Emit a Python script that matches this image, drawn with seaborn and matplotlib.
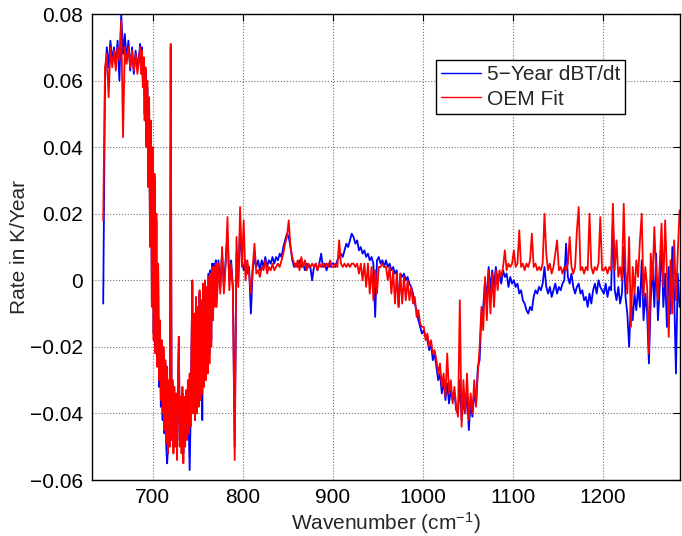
import numpy as np
import pandas as pd
import matplotlib
matplotlib.use("Agg")
import matplotlib.pyplot as plt
import seaborn as sns

# ---------------- data ----------------
# channel grid: 2 cm^-1 steps, 1 cm^-1 steps through the dense 686-770 band
wavenumber = np.concatenate([np.arange(645, 686, 2),
                             np.arange(686, 771, 1),
                             np.arange(771, 1286, 2)])

# 5-Year dBT/dt (observed), K/year, by wavenumber segment
obs_645_685 = [-0.007, 0.060, 0.070, 0.064, 0.072, 0.066, 0.070, 0.065, 0.072, 0.060,
               0.080, 0.068, 0.074, 0.066, 0.072, 0.063, 0.070, 0.062, 0.069, 0.064,
               0.068]
obs_686_770 = [0.071, 0.063, 0.070, 0.060, 0.066, 0.050, 0.063, 0.042, 0.058, 0.030,
               0.052, 0.012, 0.046, -0.006, 0.038, -0.016, 0.030, -0.020, 0.018, -0.024,
               0.003, -0.032, -0.014, -0.038, -0.020, -0.042, -0.022, -0.046, -0.025, -0.050,
               -0.055, -0.050, -0.032, -0.048, 0.070, -0.046, -0.032, -0.050, -0.034, -0.048,
               -0.036, -0.052, -0.032, -0.017, -0.048, -0.036, -0.050, -0.034, -0.052, -0.037,
               -0.048, -0.035, -0.046, -0.032, -0.044, -0.057, -0.042, -0.022, -0.001, -0.038,
               -0.012, -0.042, -0.006, -0.038, -0.009, -0.036, -0.004, -0.034, -0.007, -0.042,
               -0.002, -0.030, -0.001, -0.028, -0.003, -0.026, 0.002, -0.022, 0.003, -0.018,
               0.005, -0.010, 0.005, -0.006, 0.006]
obs_771_799 = [-0.006, 0.006, -0.002, 0.008, -0.002, 0.006, 0.014, 0.000, 0.006, -0.002,
               -0.050, 0.008, 0.000, 0.016, 0.006]
obs_801_899 = [0.003, 0.006, 0.002, 0.004, -0.010, 0.003, 0.007, 0.004, 0.006, 0.003,
               0.006, 0.004, 0.007, 0.004, 0.006, 0.005, 0.007, 0.005, 0.007, 0.006,
               0.008, 0.007, 0.010, 0.012, 0.014, 0.013, 0.010, 0.006, 0.004, 0.005,
               0.004, 0.006, 0.004, 0.005, 0.003, 0.005, 0.004, 0.004, 0.000, 0.004,
               0.005, 0.003, 0.005, 0.008, 0.004, 0.005, 0.003, 0.005, 0.004, 0.005]
obs_901_999 = [0.005, 0.004, 0.006, 0.007, 0.008, 0.007, 0.009, 0.011, 0.010, 0.012,
               0.014, 0.013, 0.011, 0.012, 0.009, 0.010, 0.008, 0.009, 0.007, 0.008,
               0.006, 0.007, 0.005, -0.011, 0.006, 0.007, 0.005, 0.006, 0.004, 0.006,
               0.004, 0.005, 0.003, 0.004, 0.002, 0.003, -0.008, 0.002, 0.001, 0.002,
               0.000, 0.001, -0.001, -0.002, -0.004, -0.007, -0.009, -0.012, -0.014, -0.016]
obs_1001_1099 = [-0.015, -0.017, -0.018, -0.021, -0.019, -0.024, -0.022, -0.026, -0.030, -0.028,
                 -0.034, -0.030, -0.036, -0.031, -0.037, -0.033, -0.036, -0.034, -0.039, -0.040,
                 -0.030, -0.042, -0.036, -0.040, -0.033, -0.045, -0.037, -0.041, -0.034, -0.037,
                 -0.026, -0.024, -0.010, -0.008, 0.000, -0.006, 0.004, -0.003, 0.003, -0.002,
                 0.004, 0.000, 0.002, -0.001, 0.003, 0.001, 0.002, -0.002, 0.001, -0.001]
obs_1101_1199 = [0.000, -0.002, -0.001, -0.004, -0.003, -0.006, -0.007, -0.009, -0.010, -0.008,
                 -0.009, -0.005, -0.003, -0.004, -0.002, -0.003, -0.001, 0.004, -0.002, -0.004,
                 -0.002, -0.005, -0.003, -0.001, -0.004, -0.002, -0.003, -0.001, 0.000, 0.011,
                 0.001, -0.001, 0.002, -0.002, -0.004, -0.002, -0.001, -0.004, -0.003, -0.006,
                 -0.005, -0.008, -0.004, -0.007, -0.003, -0.001, -0.004, 0.000, -0.002, -0.003]
obs_1201_1285 = [-0.004, -0.001, -0.005, -0.002, -0.003, 0.018, -0.003, -0.006, -0.002, -0.007,
                 -0.004, 0.010, -0.005, -0.010, -0.020, -0.006, -0.012, -0.004, -0.009, -0.002,
                 -0.008, 0.006, -0.012, -0.004, -0.010, -0.025, -0.006, 0.004, -0.008, 0.008,
                 -0.012, -0.002, 0.012, -0.008, 0.002, -0.014, 0.004, -0.010, 0.010, -0.004,
                 -0.028, 0.002, -0.008]

# OEM Fit, K/year, by wavenumber segment
fit_645_685 = [0.018, 0.064, 0.068, 0.055, 0.070, 0.064, 0.069, 0.063, 0.070, 0.066,
               0.078, 0.043, 0.070, 0.065, 0.070, 0.064, 0.069, 0.063, 0.068, 0.062,
               0.067]
fit_686_770 = [0.070, 0.062, 0.069, 0.058, 0.067, 0.048, 0.064, 0.040, 0.060, 0.028,
               0.055, 0.010, 0.048, -0.008, 0.040, -0.018, 0.032, -0.022, 0.020, -0.026,
               0.005, -0.030, -0.012, -0.036, -0.018, -0.040, -0.020, -0.045, -0.024, -0.049,
               -0.026, -0.052, -0.030, -0.050, 0.071, -0.048, -0.030, -0.052, -0.032, -0.050,
               -0.034, -0.054, -0.030, -0.017, -0.050, -0.035, -0.052, -0.032, -0.055, -0.035,
               -0.050, -0.033, -0.048, -0.030, -0.046, -0.028, -0.044, -0.020, 0.000, -0.040,
               -0.010, -0.042, -0.005, -0.040, -0.008, -0.038, -0.003, -0.036, -0.006, -0.034,
               -0.001, -0.032, 0.000, -0.030, -0.002, -0.028, 0.001, -0.025, 0.002, -0.020,
               0.004, -0.012, 0.004, -0.008, 0.005]
fit_771_799 = [-0.008, 0.005, -0.004, 0.010, -0.004, 0.005, 0.019, -0.003, 0.005, -0.003,
               -0.054, 0.013, -0.002, 0.022, 0.004]
fit_801_899 = [0.018, 0.000, 0.006, 0.002, -0.004, 0.004, 0.011, 0.002, 0.003, 0.001,
               0.004, 0.003, 0.006, 0.002, 0.004, 0.003, 0.005, 0.003, 0.004, 0.005,
               0.004, 0.006, 0.008, 0.011, 0.013, 0.018, 0.010, 0.007, 0.005, 0.004,
               0.006, 0.003, 0.007, 0.004, 0.006, 0.003, 0.005, 0.004, 0.005, 0.004,
               0.005, 0.003, 0.005, 0.004, 0.005, 0.004, 0.005, 0.004, 0.006, 0.004]
fit_901_999 = [0.004, 0.005, 0.004, 0.012, 0.005, 0.004, 0.005, 0.004, 0.005, 0.004,
               0.005, 0.005, 0.004, 0.005, 0.002, 0.005, 0.000, 0.005, -0.002, 0.005,
               -0.004, 0.004, -0.006, 0.003, -0.004, 0.004, 0.004, 0.005, 0.004, 0.004,
               0.000, 0.004, -0.004, 0.003, -0.007, 0.002, -0.008, 0.002, -0.007, 0.001,
               -0.006, 0.000, -0.006, -0.002, -0.007, -0.005, -0.011, -0.009, -0.013, -0.014]
fit_1001_1099 = [-0.014, -0.018, -0.016, -0.020, -0.018, -0.022, -0.021, -0.024, -0.028, -0.025,
                 -0.032, -0.028, -0.035, -0.022, -0.034, -0.030, -0.037, -0.032, -0.038, -0.041,
                 -0.006, -0.044, -0.030, -0.040, -0.028, -0.042, -0.034, -0.040, -0.030, -0.038,
                 -0.028, -0.020, -0.008, -0.015, 0.001, -0.012, 0.003, -0.010, 0.002, -0.008,
                 0.003, -0.003, 0.003, 0.001, 0.004, 0.009, 0.003, 0.005, 0.004, 0.005]
fit_1101_1199 = [0.009, 0.004, 0.005, 0.015, 0.004, 0.005, 0.003, 0.005, 0.004, 0.006,
                 0.014, 0.004, 0.005, 0.003, 0.004, 0.003, 0.005, 0.020, 0.008, 0.003,
                 0.005, 0.002, 0.004, 0.008, 0.012, 0.003, 0.004, 0.002, 0.004, 0.003,
                 0.005, 0.013, 0.004, 0.002, 0.004, 0.015, 0.022, 0.003, 0.004, 0.002,
                 0.004, 0.003, 0.020, 0.004, 0.002, 0.004, 0.003, 0.005, 0.019, 0.003]
fit_1201_1285 = [0.003, 0.004, 0.002, 0.004, 0.003, 0.023, 0.003, 0.012, 0.001, 0.004,
                 0.000, 0.023, 0.003, -0.004, 0.013, -0.014, 0.004, -0.004, 0.006, 0.001,
                 0.012, 0.020, -0.005, 0.004, -0.002, -0.022, 0.008, 0.000, 0.016, 0.002,
                 -0.006, 0.005, 0.017, -0.002, 0.018, 0.002, -0.017, 0.006, -0.010, 0.012,
                 -0.006, 0.008, 0.021]

series_names = ["5\u2212Year dBT/dt", "OEM Fit"]
series_colors = ["#0000ff", "#ff0000"]
xticks = [700, 800, 900, 1000, 1100, 1200]
yticks = [-0.06, -0.04, -0.02, 0, 0.02, 0.04, 0.06, 0.08]
ytick_labels = ["\u22120.06", "\u22120.04", "\u22120.02", "0", "0.02", "0.04", "0.06", "0.08"]

obs = np.concatenate([obs_645_685, obs_686_770, obs_771_799, obs_801_899, obs_901_999,
                      obs_1001_1099, obs_1101_1199, obs_1201_1285])
fit = np.concatenate([fit_645_685, fit_686_770, fit_771_799, fit_801_899, fit_901_999,
                      fit_1001_1099, fit_1101_1199, fit_1201_1285])

df = pd.DataFrame({
    "wn": np.concatenate([wavenumber, wavenumber]),
    "rate": np.concatenate([obs, fit]),
    "series": [series_names[0]] * len(obs) + [series_names[1]] * len(fit),
})

# ---------------- style ----------------
sns.set_style("white")
plt.rcParams["font.family"] = ["Liberation Sans", "DejaVu Sans"]
plt.rcParams["mathtext.fontset"] = "custom"
plt.rcParams["mathtext.rm"] = "Liberation Sans"
plt.rcParams["mathtext.default"] = "regular"

fig = plt.figure(figsize=(6.82, 5.36), dpi=100)
ax = fig.add_axes([91.5 / 682, 56 / 536, (680 - 91.5) / 682, (480 - 14) / 536])

sns.lineplot(data=df, x="wn", y="rate", hue="series", hue_order=series_names,
             palette=series_colors, estimator=None, sort=False, linewidth=1.3, ax=ax)

ax.set_xlim(632, 1285.5)
ax.set_ylim(-0.06, 0.08)
ax.set_xticks(xticks)
ax.set_xticklabels([str(t) for t in xticks])
ax.set_yticks(yticks)
ax.set_yticklabels(ytick_labels)
ax.grid(True, linestyle=":", color="0.45", linewidth=0.8)
ax.tick_params(direction="in", top=True, right=True, length=5, width=0.8,
               labelsize=15, colors="black", pad=6)
for s in ax.spines.values():
    s.set_color("black")
    s.set_linewidth(1.0)

ax.set_xlabel("Wavenumber (cm$^{\u22121}$)", fontsize=15, labelpad=2)
ax.set_ylabel("Rate in K/Year", fontsize=15, labelpad=1)

leg = ax.legend(loc="upper left", bbox_to_anchor=(0.585, 0.901), frameon=True,
                fancybox=False, edgecolor="black", framealpha=1, fontsize=15,
                handlelength=1.9, handletextpad=0.3, borderpad=0.25,
                labelspacing=0.25, borderaxespad=0)
leg.get_frame().set_linewidth(1.0)
for line in leg.get_lines():
    line.set_linewidth(1.0)

fig.savefig("out.png", dpi=100)
